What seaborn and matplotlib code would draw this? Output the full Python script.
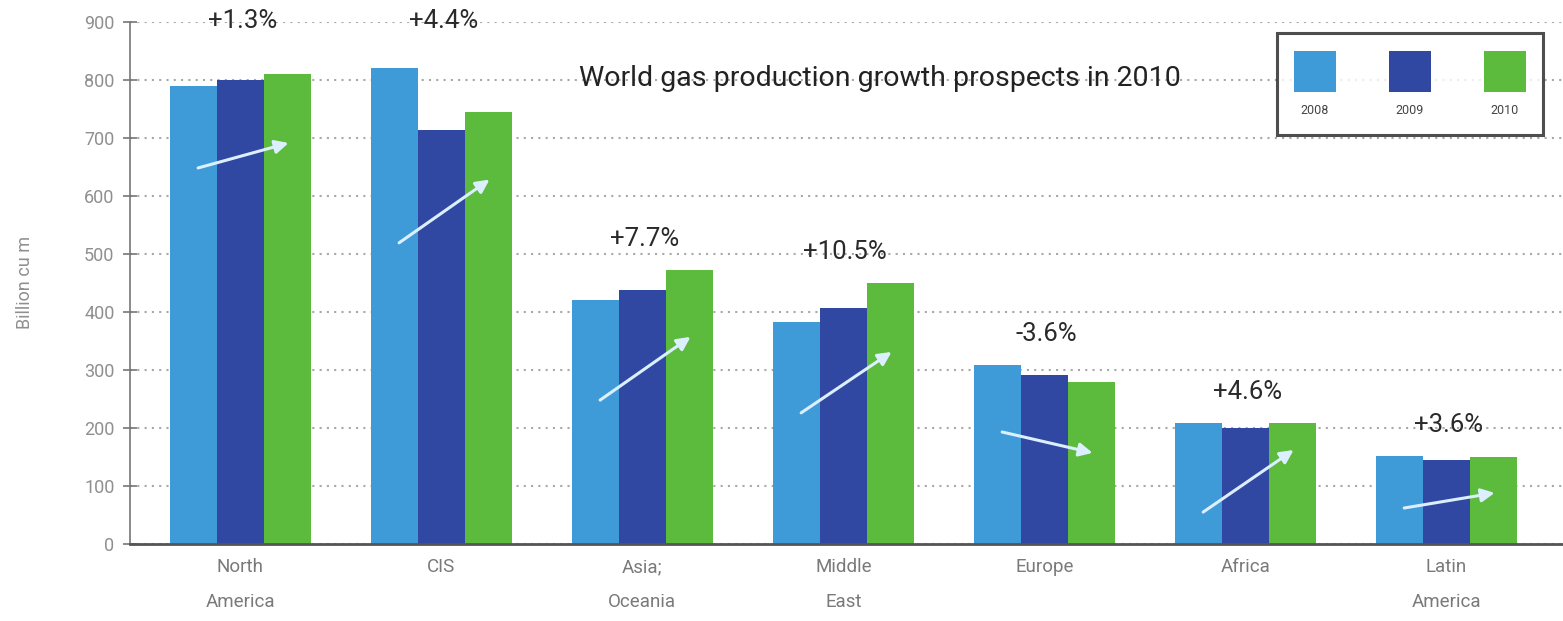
import matplotlib
matplotlib.use("Agg")
import matplotlib.pyplot as plt
from matplotlib.offsetbox import VPacker
import seaborn as sns
import pandas as pd

regions = ["North\nAmerica", "CIS", "Asia;\nOceania", "Middle\nEast", "Europe", "Africa", "Latin\nAmerica"]
years = ["2008", "2009", "2010"]
v2008 = [790, 820, 421, 383, 308, 209, 152]
v2009 = [800, 713, 438, 407, 291, 200, 145]
v2010 = [810, 745, 472, 449, 280, 209, 150]
pct_labels = ["+1.3%", "+4.4%", "+7.7%", "+10.5%", "-3.6%", "+4.6%", "+3.6%"]
title = "World gas production growth prospects in 2010"
ylabel = "Billion cu m"

# decorative trend arrows (start/end heights, in data units)
arrow_y0 = [648, 519, 248, 226, 193, 55, 62]
arrow_y1 = [691, 628, 357, 331, 157, 162, 88]

colors = ["#3f9bd8", "#3048a2", "#5cba3c"]

sns.set_theme(style="white")
plt.rcParams["font.family"] = ["Roboto", "DejaVu Sans"]

rows = []
for i, r in enumerate(regions):
    for y, vals in zip(years, [v2008, v2009, v2010]):
        rows.append({"region": r, "year": y, "value": vals[i]})
df = pd.DataFrame(rows)

fig = plt.figure(figsize=(15.63, 6.21), dpi=100)
ax = fig.add_axes([0.083, 0.124, 0.917, 0.841])

sns.barplot(data=df, x="region", y="value", hue="year", palette=colors,
            width=0.7, gap=0, saturation=1, ax=ax, order=regions, hue_order=years,
            linewidth=0, edgecolor="none")

ax.set_ylim(0, 900)
ax.set_xlim(-0.55, 6.58)
ax.set_yticks(range(0, 901, 100))
ax.set_axisbelow(True)
ax.yaxis.grid(True, linestyle=(0, (1, 2.5)), color="#a8a8a8", linewidth=1.5)
ax.xaxis.grid(False)

for s in ["top", "right"]:
    ax.spines[s].set_visible(False)
ax.spines["left"].set_color("#777777")
ax.spines["left"].set_linewidth(1.2)
ax.spines["bottom"].set_color("#555555")
ax.spines["bottom"].set_linewidth(2)

ax.tick_params(axis="y", which="major", direction="inout", length=10, width=1.2,
               color="#777777", labelcolor="#8f8f8f", labelsize=13, pad=6, left=True)
ax.tick_params(axis="x", length=0, labelcolor="#7a7a7a", labelsize=13.5, pad=10)
for t in ax.get_xticklabels():
    t.set_linespacing(2.2)
ax.set_xlabel("")
ax.set_ylabel(ylabel, color="#8f8f8f", fontsize=13, labelpad=36)

# percentage labels
for i, lab in enumerate(pct_labels):
    top = max(v2008[i], v2009[i], v2010[i])
    ly = top + 33 if top + 33 < 700 else 880
    ax.text(i + 0.01, ly, lab, ha="center", va="bottom",
            fontsize=18.5, color="#2a2a2a", clip_on=False)

# trend arrows
for i in range(len(regions)):
    ax.annotate("", xy=(i + 0.24, arrow_y1[i]), xytext=(i - 0.21, arrow_y0[i]),
                arrowprops=dict(arrowstyle="-|>", color="#dcefff", lw=2.2,
                                mutation_scale=20, shrinkA=0, shrinkB=0))

ax.text(3.18, 803, title, ha="center", va="center", fontsize=20.5, color="#222222")

# legend: swatches with year labels below them
handles, labels = ax.get_legend_handles_labels()
if ax.get_legend() is not None:
    ax.get_legend().remove()
leg = ax.legend(handles, labels, ncol=3, loc="upper right",
                bbox_to_anchor=(1543 / 1563, (621 - 33) / 621),
                bbox_transform=fig.transFigure, borderaxespad=0,
                fontsize=9, handlelength=3.3, handleheight=4.7,
                columnspacing=4.3, handletextpad=0.3, borderpad=1.4,
                frameon=True, fancybox=False)
leg.get_frame().set_edgecolor("#222222")
leg.get_frame().set_linewidth(2.2)
for t in leg.get_texts():
    t.set_color("#444444")
for col in leg._legend_handle_box.get_children():
    for item in col.get_children():
        item.__class__ = VPacker
        item.align = "center"
        item.sep = 9

fig.savefig("out.png", dpi=100)
